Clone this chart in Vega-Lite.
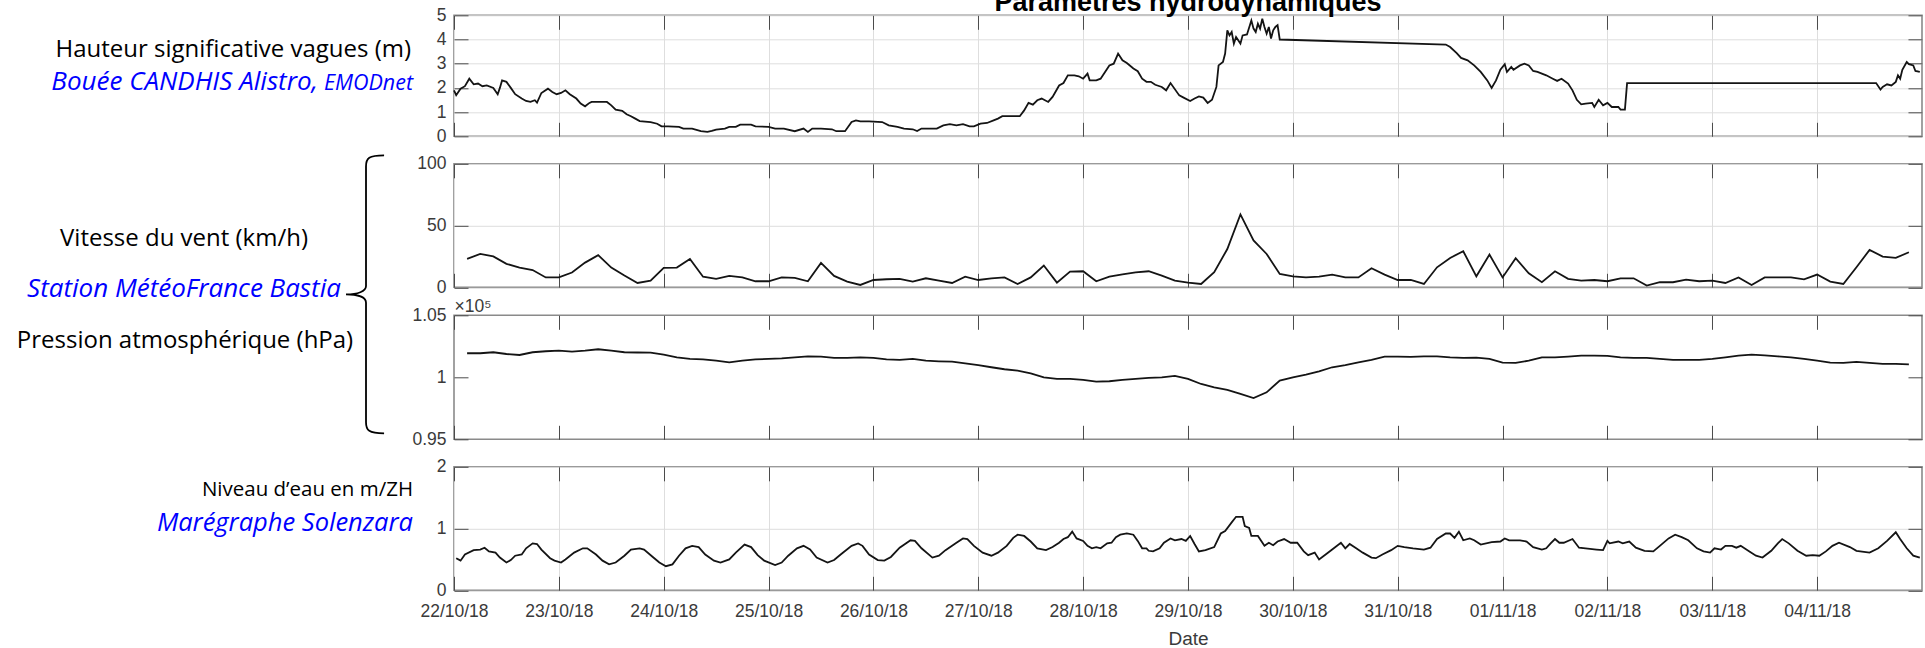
{
"$schema": "https://vega.github.io/schema/vega-lite/v6.json",
"background": "white",
"padding": {"left": 0, "top": -12.7, "right": 0, "bottom": 0},
"autosize": {"type": "pad"},
"config": {
  "view": {"stroke": "#8a8a8a", "strokeWidth": 1.6},
  "axis": {"domain": false, "labelFont": "Liberation Sans", "labelFontSize": 17.5, "labelColor": "#3a3a3a", "labelOverlap": false, "tickColor": "#4a4a4a", "tickSize": -14, "tickWidth": 1, "gridColor": "#dedede", "gridWidth": 1, "labelFlush": false, "titleFont": "Liberation Sans", "titleFontWeight": "normal", "titleColor": "#3a3a3a"},
  "axisLeft": {"labelPadding": 22},
  "axisBottom": {"labelPadding": 26},
  "line": {"color": "#141414", "strokeWidth": 1.8}
},
"datasets": {
"vagues": [
{"date":"2018-10-22T00:00Z","valeur":1.9},{"date":"2018-10-22T00:30Z","valeur":1.7},{"date":"2018-10-22T01:30Z","valeur":1.97},{"date":"2018-10-22T02:30Z","valeur":2.07},{"date":"2018-10-22T03:30Z","valeur":2.38},{"date":"2018-10-22T04:30Z","valeur":2.15},{"date":"2018-10-22T05:30Z","valeur":2.18},{"date":"2018-10-22T06:30Z","valeur":2.07},{"date":"2018-10-22T07:30Z","valeur":2.1},{"date":"2018-10-22T09:00Z","valeur":2.0},{"date":"2018-10-22T10:00Z","valeur":1.74},{"date":"2018-10-22T10:30Z","valeur":2.0},{"date":"2018-10-22T11:00Z","valeur":2.31},{"date":"2018-10-22T12:00Z","valeur":2.25},{"date":"2018-10-22T13:00Z","valeur":2.0},{"date":"2018-10-22T14:00Z","valeur":1.74},{"date":"2018-10-22T15:30Z","valeur":1.56},{"date":"2018-10-22T16:30Z","valeur":1.46},{"date":"2018-10-22T17:30Z","valeur":1.42},{"date":"2018-10-22T18:30Z","valeur":1.49},{"date":"2018-10-22T19:00Z","valeur":1.39},{"date":"2018-10-22T20:00Z","valeur":1.79},{"date":"2018-10-22T21:30Z","valeur":1.97},{"date":"2018-10-22T22:30Z","valeur":1.83},{"date":"2018-10-22T23:30Z","valeur":1.74},
{"date":"2018-10-23T00:30Z","valeur":1.79},{"date":"2018-10-23T01:30Z","valeur":1.9},{"date":"2018-10-23T02:30Z","valeur":1.74},{"date":"2018-10-23T04:00Z","valeur":1.56},{"date":"2018-10-23T05:00Z","valeur":1.35},{"date":"2018-10-23T06:00Z","valeur":1.24},{"date":"2018-10-23T07:00Z","valeur":1.38},{"date":"2018-10-23T07:30Z","valeur":1.42},{"date":"2018-10-23T09:30Z","valeur":1.42},{"date":"2018-10-23T11:00Z","valeur":1.42},{"date":"2018-10-23T12:00Z","valeur":1.28},{"date":"2018-10-23T13:00Z","valeur":1.10},{"date":"2018-10-23T14:30Z","valeur":1.05},{"date":"2018-10-23T15:30Z","valeur":0.91},{"date":"2018-10-23T16:30Z","valeur":0.83},{"date":"2018-10-23T17:30Z","valeur":0.73},{"date":"2018-10-23T18:30Z","valeur":0.63},{"date":"2018-10-23T21:00Z","valeur":0.59},{"date":"2018-10-23T22:30Z","valeur":0.52},{"date":"2018-10-23T23:30Z","valeur":0.41},
{"date":"2018-10-24T01:00Z","valeur":0.41},{"date":"2018-10-24T03:30Z","valeur":0.39},{"date":"2018-10-24T04:30Z","valeur":0.32},{"date":"2018-10-24T06:30Z","valeur":0.32},{"date":"2018-10-24T08:30Z","valeur":0.21},{"date":"2018-10-24T10:00Z","valeur":0.18},{"date":"2018-10-24T11:00Z","valeur":0.22},{"date":"2018-10-24T12:00Z","valeur":0.28},{"date":"2018-10-24T14:00Z","valeur":0.32},{"date":"2018-10-24T15:00Z","valeur":0.39},{"date":"2018-10-24T16:30Z","valeur":0.39},{"date":"2018-10-24T17:30Z","valeur":0.48},{"date":"2018-10-24T20:00Z","valeur":0.48},{"date":"2018-10-24T21:00Z","valeur":0.41},
{"date":"2018-10-25T00:00Z","valeur":0.39},{"date":"2018-10-25T01:30Z","valeur":0.32},{"date":"2018-10-25T03:30Z","valeur":0.32},{"date":"2018-10-25T06:00Z","valeur":0.21},{"date":"2018-10-25T08:00Z","valeur":0.32},{"date":"2018-10-25T09:00Z","valeur":0.18},{"date":"2018-10-25T10:00Z","valeur":0.32},{"date":"2018-10-25T12:00Z","valeur":0.32},{"date":"2018-10-25T14:30Z","valeur":0.29},{"date":"2018-10-25T15:30Z","valeur":0.21},{"date":"2018-10-25T17:30Z","valeur":0.21},{"date":"2018-10-25T19:00Z","valeur":0.59},{"date":"2018-10-25T20:00Z","valeur":0.66},{"date":"2018-10-25T21:00Z","valeur":0.62},{"date":"2018-10-25T23:00Z","valeur":0.62},
{"date":"2018-10-26T02:00Z","valeur":0.59},{"date":"2018-10-26T03:30Z","valeur":0.45},{"date":"2018-10-26T05:30Z","valeur":0.39},{"date":"2018-10-26T07:00Z","valeur":0.32},{"date":"2018-10-26T09:00Z","valeur":0.29},{"date":"2018-10-26T10:00Z","valeur":0.22},{"date":"2018-10-26T11:00Z","valeur":0.32},{"date":"2018-10-26T14:30Z","valeur":0.32},{"date":"2018-10-26T16:00Z","valeur":0.45},{"date":"2018-10-26T17:30Z","valeur":0.50},{"date":"2018-10-26T19:00Z","valeur":0.45},{"date":"2018-10-26T20:30Z","valeur":0.50},{"date":"2018-10-26T22:00Z","valeur":0.41},{"date":"2018-10-26T23:00Z","valeur":0.41},
{"date":"2018-10-27T00:30Z","valeur":0.52},{"date":"2018-10-27T02:00Z","valeur":0.55},{"date":"2018-10-27T03:30Z","valeur":0.66},{"date":"2018-10-27T04:30Z","valeur":0.73},{"date":"2018-10-27T05:30Z","valeur":0.83},{"date":"2018-10-27T09:30Z","valeur":0.83},{"date":"2018-10-27T10:30Z","valeur":1.07},{"date":"2018-10-27T11:30Z","valeur":1.38},{"date":"2018-10-27T12:30Z","valeur":1.31},{"date":"2018-10-27T13:30Z","valeur":1.49},{"date":"2018-10-27T14:30Z","valeur":1.56},{"date":"2018-10-27T16:00Z","valeur":1.42},{"date":"2018-10-27T17:00Z","valeur":1.63},{"date":"2018-10-27T18:30Z","valeur":2.1},{"date":"2018-10-27T19:30Z","valeur":2.2},{"date":"2018-10-27T20:30Z","valeur":2.52},{"date":"2018-10-27T22:00Z","valeur":2.52},{"date":"2018-10-27T23:00Z","valeur":2.48},
{"date":"2018-10-28T00:00Z","valeur":2.38},{"date":"2018-10-28T01:00Z","valeur":2.59},{"date":"2018-10-28T01:30Z","valeur":2.31},{"date":"2018-10-28T03:00Z","valeur":2.31},{"date":"2018-10-28T04:00Z","valeur":2.38},{"date":"2018-10-28T06:00Z","valeur":2.93},{"date":"2018-10-28T07:00Z","valeur":3.0},{"date":"2018-10-28T08:00Z","valeur":3.42},{"date":"2018-10-28T09:00Z","valeur":3.14},{"date":"2018-10-28T10:00Z","valeur":3.03},{"date":"2018-10-28T11:30Z","valeur":2.8},{"date":"2018-10-28T12:30Z","valeur":2.69},{"date":"2018-10-28T13:30Z","valeur":2.38},{"date":"2018-10-28T14:30Z","valeur":2.25},{"date":"2018-10-28T15:30Z","valeur":2.25},{"date":"2018-10-28T16:30Z","valeur":2.13},{"date":"2018-10-28T18:00Z","valeur":2.04},{"date":"2018-10-28T19:00Z","valeur":1.9},{"date":"2018-10-28T20:00Z","valeur":2.2},{"date":"2018-10-28T22:00Z","valeur":1.69},{"date":"2018-10-28T23:00Z","valeur":1.6},
{"date":"2018-10-29T00:30Z","valeur":1.46},{"date":"2018-10-29T01:30Z","valeur":1.56},{"date":"2018-10-29T02:30Z","valeur":1.65},{"date":"2018-10-29T03:30Z","valeur":1.6},{"date":"2018-10-29T04:30Z","valeur":1.38},{"date":"2018-10-29T05:30Z","valeur":1.51},{"date":"2018-10-29T06:30Z","valeur":2.04},{"date":"2018-10-29T07:00Z","valeur":2.93},{"date":"2018-10-29T08:00Z","valeur":3.07},{"date":"2018-10-29T08:30Z","valeur":3.42},{"date":"2018-10-29T09:00Z","valeur":4.38},{"date":"2018-10-29T09:30Z","valeur":4.17},{"date":"2018-10-29T10:00Z","valeur":4.31},{"date":"2018-10-29T10:30Z","valeur":3.83},{"date":"2018-10-29T11:00Z","valeur":4.1},{"date":"2018-10-29T12:00Z","valeur":3.83},{"date":"2018-10-29T12:30Z","valeur":4.17},{"date":"2018-10-29T13:30Z","valeur":4.21},{"date":"2018-10-29T14:30Z","valeur":4.79},{"date":"2018-10-29T15:00Z","valeur":4.45},{"date":"2018-10-29T15:30Z","valeur":4.31},{"date":"2018-10-29T16:00Z","valeur":4.65},{"date":"2018-10-29T16:30Z","valeur":4.45},{"date":"2018-10-29T17:00Z","valeur":4.86},{"date":"2018-10-29T17:30Z","valeur":4.52},{"date":"2018-10-29T18:00Z","valeur":4.24},{"date":"2018-10-29T18:30Z","valeur":4.52},{"date":"2018-10-29T19:00Z","valeur":4.04},{"date":"2018-10-29T19:30Z","valeur":4.38},{"date":"2018-10-29T20:00Z","valeur":4.52},{"date":"2018-10-29T20:30Z","valeur":4.59},{"date":"2018-10-29T21:00Z","valeur":4.0},
{"date":"2018-10-31T11:00Z","valeur":3.79},{"date":"2018-10-31T12:00Z","valeur":3.69},{"date":"2018-10-31T13:30Z","valeur":3.44},{"date":"2018-10-31T14:30Z","valeur":3.24},{"date":"2018-10-31T16:00Z","valeur":3.14},{"date":"2018-10-31T17:30Z","valeur":2.93},{"date":"2018-10-31T19:00Z","valeur":2.66},{"date":"2018-10-31T20:30Z","valeur":2.31},{"date":"2018-10-31T21:30Z","valeur":2.0},{"date":"2018-10-31T22:30Z","valeur":2.31},{"date":"2018-10-31T23:30Z","valeur":2.75},
{"date":"2018-11-01T00:30Z","valeur":2.98},{"date":"2018-11-01T01:00Z","valeur":2.66},{"date":"2018-11-01T02:00Z","valeur":2.87},{"date":"2018-11-01T02:30Z","valeur":2.75},{"date":"2018-11-01T04:00Z","valeur":2.93},{"date":"2018-11-01T05:00Z","valeur":3.0},{"date":"2018-11-01T06:00Z","valeur":2.93},{"date":"2018-11-01T07:00Z","valeur":2.7},{"date":"2018-11-01T08:00Z","valeur":2.66},{"date":"2018-11-01T10:00Z","valeur":2.52},{"date":"2018-11-01T11:30Z","valeur":2.38},{"date":"2018-11-01T12:30Z","valeur":2.29},{"date":"2018-11-01T13:30Z","valeur":2.38},{"date":"2018-11-01T15:00Z","valeur":2.18},{"date":"2018-11-01T16:00Z","valeur":1.9},{"date":"2018-11-01T17:00Z","valeur":1.51},{"date":"2018-11-01T18:00Z","valeur":1.32},{"date":"2018-11-01T19:00Z","valeur":1.35},{"date":"2018-11-01T20:30Z","valeur":1.38},{"date":"2018-11-01T21:00Z","valeur":1.21},{"date":"2018-11-01T22:00Z","valeur":1.51},{"date":"2018-11-01T23:00Z","valeur":1.28},
{"date":"2018-11-02T00:00Z","valeur":1.38},{"date":"2018-11-02T01:00Z","valeur":1.21},{"date":"2018-11-02T02:30Z","valeur":1.21},{"date":"2018-11-02T03:00Z","valeur":1.10},{"date":"2018-11-02T04:00Z","valeur":1.10},{"date":"2018-11-02T04:30Z","valeur":2.2},
{"date":"2018-11-04T13:30Z","valeur":2.2},{"date":"2018-11-04T14:30Z","valeur":1.93},{"date":"2018-11-04T15:00Z","valeur":2.04},{"date":"2018-11-04T16:00Z","valeur":2.15},{"date":"2018-11-04T17:00Z","valeur":2.1},{"date":"2018-11-04T18:00Z","valeur":2.25},{"date":"2018-11-04T18:30Z","valeur":2.52},{"date":"2018-11-04T19:00Z","valeur":2.38},{"date":"2018-11-04T19:30Z","valeur":2.75},{"date":"2018-11-04T20:30Z","valeur":3.07},{"date":"2018-11-04T21:00Z","valeur":2.98},{"date":"2018-11-04T22:00Z","valeur":2.93},{"date":"2018-11-04T22:30Z","valeur":2.7},{"date":"2018-11-04T23:30Z","valeur":2.66}
],
"vent": [
{"date":"2018-10-22T03:00Z","valeur":23},{"date":"2018-10-22T06:00Z","valeur":27},{"date":"2018-10-22T09:00Z","valeur":25},{"date":"2018-10-22T12:00Z","valeur":19},{"date":"2018-10-22T15:00Z","valeur":16},{"date":"2018-10-22T18:00Z","valeur":14},{"date":"2018-10-22T21:00Z","valeur":8},
{"date":"2018-10-23T00:00Z","valeur":8},{"date":"2018-10-23T03:00Z","valeur":12},{"date":"2018-10-23T06:00Z","valeur":20},{"date":"2018-10-23T09:00Z","valeur":26},{"date":"2018-10-23T12:00Z","valeur":16},{"date":"2018-10-23T15:00Z","valeur":9.5},{"date":"2018-10-23T18:00Z","valeur":3.5},{"date":"2018-10-23T21:00Z","valeur":5.4},
{"date":"2018-10-24T00:00Z","valeur":15.7},{"date":"2018-10-24T03:00Z","valeur":16},{"date":"2018-10-24T06:00Z","valeur":23},{"date":"2018-10-24T09:00Z","valeur":8.6},{"date":"2018-10-24T12:00Z","valeur":6.8},{"date":"2018-10-24T15:00Z","valeur":9.2},{"date":"2018-10-24T18:00Z","valeur":8},{"date":"2018-10-24T21:00Z","valeur":4.9},
{"date":"2018-10-25T00:00Z","valeur":4.9},{"date":"2018-10-25T03:00Z","valeur":8},{"date":"2018-10-25T06:00Z","valeur":7.6},{"date":"2018-10-25T09:00Z","valeur":4.9},{"date":"2018-10-25T12:00Z","valeur":19.7},{"date":"2018-10-25T15:00Z","valeur":9.2},{"date":"2018-10-25T18:00Z","valeur":4.6},{"date":"2018-10-25T21:00Z","valeur":1.9},
{"date":"2018-10-26T00:00Z","valeur":5.9},{"date":"2018-10-26T03:00Z","valeur":6.5},{"date":"2018-10-26T06:00Z","valeur":6.8},{"date":"2018-10-26T09:00Z","valeur":4.6},{"date":"2018-10-26T12:00Z","valeur":7.3},{"date":"2018-10-26T15:00Z","valeur":5.4},{"date":"2018-10-26T18:00Z","valeur":3.5},{"date":"2018-10-26T21:00Z","valeur":8.6},
{"date":"2018-10-27T00:00Z","valeur":5.9},{"date":"2018-10-27T03:00Z","valeur":7.3},{"date":"2018-10-27T06:00Z","valeur":8},{"date":"2018-10-27T09:00Z","valeur":2.7},{"date":"2018-10-27T12:00Z","valeur":8},{"date":"2018-10-27T15:00Z","valeur":17.6},{"date":"2018-10-27T18:00Z","valeur":3.8},{"date":"2018-10-27T21:00Z","valeur":12.7},
{"date":"2018-10-28T00:00Z","valeur":13},{"date":"2018-10-28T03:00Z","valeur":4.9},{"date":"2018-10-28T06:00Z","valeur":8.6},{"date":"2018-10-28T09:00Z","valeur":10.5},{"date":"2018-10-28T12:00Z","valeur":12},{"date":"2018-10-28T15:00Z","valeur":13},{"date":"2018-10-28T18:00Z","valeur":9.5},{"date":"2018-10-28T21:00Z","valeur":5.4},
{"date":"2018-10-29T00:00Z","valeur":3.8},{"date":"2018-10-29T03:00Z","valeur":2.7},{"date":"2018-10-29T06:00Z","valeur":12.2},{"date":"2018-10-29T09:00Z","valeur":31},{"date":"2018-10-29T12:00Z","valeur":59},{"date":"2018-10-29T15:00Z","valeur":38},{"date":"2018-10-29T18:00Z","valeur":27},{"date":"2018-10-29T21:00Z","valeur":10.8},
{"date":"2018-10-30T00:00Z","valeur":8.9},{"date":"2018-10-30T03:00Z","valeur":8},{"date":"2018-10-30T06:00Z","valeur":8.6},{"date":"2018-10-30T09:00Z","valeur":10.3},{"date":"2018-10-30T12:00Z","valeur":8},{"date":"2018-10-30T15:00Z","valeur":8},{"date":"2018-10-30T18:00Z","valeur":15.4},{"date":"2018-10-30T21:00Z","valeur":10.3},
{"date":"2018-10-31T00:00Z","valeur":5.9},{"date":"2018-10-31T03:00Z","valeur":5.9},{"date":"2018-10-31T06:00Z","valeur":2.7},{"date":"2018-10-31T09:00Z","valeur":16.2},{"date":"2018-10-31T12:00Z","valeur":23.8},{"date":"2018-10-31T15:00Z","valeur":29.2},{"date":"2018-10-31T18:00Z","valeur":8.9},{"date":"2018-10-31T21:00Z","valeur":26.5},
{"date":"2018-11-01T00:00Z","valeur":8},{"date":"2018-11-01T03:00Z","valeur":23.5},{"date":"2018-11-01T06:00Z","valeur":11.4},{"date":"2018-11-01T09:00Z","valeur":4.1},{"date":"2018-11-01T12:00Z","valeur":13},{"date":"2018-11-01T15:00Z","valeur":6.8},{"date":"2018-11-01T18:00Z","valeur":5.4},{"date":"2018-11-01T21:00Z","valeur":5.9},
{"date":"2018-11-02T00:00Z","valeur":4.9},{"date":"2018-11-02T03:00Z","valeur":7.3},{"date":"2018-11-02T06:00Z","valeur":7.3},{"date":"2018-11-02T09:00Z","valeur":1.4},{"date":"2018-11-02T12:00Z","valeur":4.1},{"date":"2018-11-02T15:00Z","valeur":4.1},{"date":"2018-11-02T18:00Z","valeur":6.2},{"date":"2018-11-02T21:00Z","valeur":4.9},
{"date":"2018-11-03T00:00Z","valeur":5.4},{"date":"2018-11-03T03:00Z","valeur":3.5},{"date":"2018-11-03T06:00Z","valeur":8},{"date":"2018-11-03T09:00Z","valeur":1.9},{"date":"2018-11-03T12:00Z","valeur":8},{"date":"2018-11-03T15:00Z","valeur":8},{"date":"2018-11-03T18:00Z","valeur":8},{"date":"2018-11-03T21:00Z","valeur":6.5},
{"date":"2018-11-04T00:00Z","valeur":10.3},{"date":"2018-11-04T03:00Z","valeur":4.6},{"date":"2018-11-04T06:00Z","valeur":2.7},{"date":"2018-11-04T09:00Z","valeur":16.2},{"date":"2018-11-04T12:00Z","valeur":30.3},{"date":"2018-11-04T15:00Z","valeur":24.9},{"date":"2018-11-04T18:00Z","valeur":23.8},{"date":"2018-11-04T21:00Z","valeur":28.4}
],
"pression": [
{"date":"2018-10-22T03:00Z","valeur":101940},{"date":"2018-10-22T06:00Z","valeur":101940},{"date":"2018-10-22T09:00Z","valeur":102020},{"date":"2018-10-22T12:00Z","valeur":101880},{"date":"2018-10-22T15:00Z","valeur":101800},{"date":"2018-10-22T18:00Z","valeur":102020},{"date":"2018-10-22T21:00Z","valeur":102100},
{"date":"2018-10-23T00:00Z","valeur":102150},{"date":"2018-10-23T03:00Z","valeur":102070},{"date":"2018-10-23T06:00Z","valeur":102150},{"date":"2018-10-23T09:00Z","valeur":102260},{"date":"2018-10-23T12:00Z","valeur":102150},{"date":"2018-10-23T15:00Z","valeur":102020},{"date":"2018-10-23T18:00Z","valeur":102000},{"date":"2018-10-23T21:00Z","valeur":101990},
{"date":"2018-10-24T00:00Z","valeur":101830},{"date":"2018-10-24T03:00Z","valeur":101610},{"date":"2018-10-24T06:00Z","valeur":101480},{"date":"2018-10-24T09:00Z","valeur":101450},{"date":"2018-10-24T12:00Z","valeur":101340},{"date":"2018-10-24T15:00Z","valeur":101210},{"date":"2018-10-24T18:00Z","valeur":101340},{"date":"2018-10-24T21:00Z","valeur":101450},
{"date":"2018-10-25T00:00Z","valeur":101480},{"date":"2018-10-25T03:00Z","valeur":101530},{"date":"2018-10-25T06:00Z","valeur":101610},{"date":"2018-10-25T09:00Z","valeur":101690},{"date":"2018-10-25T12:00Z","valeur":101670},{"date":"2018-10-25T15:00Z","valeur":101560},{"date":"2018-10-25T18:00Z","valeur":101560},{"date":"2018-10-25T21:00Z","valeur":101610},
{"date":"2018-10-26T00:00Z","valeur":101560},{"date":"2018-10-26T03:00Z","valeur":101450},{"date":"2018-10-26T06:00Z","valeur":101400},{"date":"2018-10-26T09:00Z","valeur":101480},{"date":"2018-10-26T12:00Z","valeur":101340},{"date":"2018-10-26T15:00Z","valeur":101290},{"date":"2018-10-26T18:00Z","valeur":101260},{"date":"2018-10-26T21:00Z","valeur":101130},
{"date":"2018-10-27T00:00Z","valeur":100990},{"date":"2018-10-27T03:00Z","valeur":100810},{"date":"2018-10-27T06:00Z","valeur":100650},{"date":"2018-10-27T09:00Z","valeur":100540},{"date":"2018-10-27T12:00Z","valeur":100320},{"date":"2018-10-27T15:00Z","valeur":100000},{"date":"2018-10-27T18:00Z","valeur":99870},{"date":"2018-10-27T21:00Z","valeur":99870},
{"date":"2018-10-28T00:00Z","valeur":99790},{"date":"2018-10-28T03:00Z","valeur":99650},{"date":"2018-10-28T06:00Z","valeur":99680},{"date":"2018-10-28T09:00Z","valeur":99790},{"date":"2018-10-28T12:00Z","valeur":99880},{"date":"2018-10-28T15:00Z","valeur":99950},{"date":"2018-10-28T18:00Z","valeur":100000},{"date":"2018-10-28T21:00Z","valeur":100110},
{"date":"2018-10-29T00:00Z","valeur":99870},{"date":"2018-10-29T03:00Z","valeur":99460},{"date":"2018-10-29T06:00Z","valeur":99190},{"date":"2018-10-29T09:00Z","valeur":98980},{"date":"2018-10-29T12:00Z","valeur":98660},{"date":"2018-10-29T15:00Z","valeur":98330},{"date":"2018-10-29T18:00Z","valeur":98790},{"date":"2018-10-29T21:00Z","valeur":99730},
{"date":"2018-10-30T00:00Z","valeur":100000},{"date":"2018-10-30T03:00Z","valeur":100220},{"date":"2018-10-30T06:00Z","valeur":100480},{"date":"2018-10-30T09:00Z","valeur":100810},{"date":"2018-10-30T12:00Z","valeur":100990},{"date":"2018-10-30T15:00Z","valeur":101210},{"date":"2018-10-30T18:00Z","valeur":101400},{"date":"2018-10-30T21:00Z","valeur":101670},
{"date":"2018-10-31T00:00Z","valeur":101670},{"date":"2018-10-31T03:00Z","valeur":101640},{"date":"2018-10-31T06:00Z","valeur":101690},{"date":"2018-10-31T09:00Z","valeur":101690},{"date":"2018-10-31T12:00Z","valeur":101610},{"date":"2018-10-31T15:00Z","valeur":101560},{"date":"2018-10-31T18:00Z","valeur":101590},{"date":"2018-10-31T21:00Z","valeur":101480},
{"date":"2018-11-01T00:00Z","valeur":101180},{"date":"2018-11-01T03:00Z","valeur":101160},{"date":"2018-11-01T06:00Z","valeur":101340},{"date":"2018-11-01T09:00Z","valeur":101610},{"date":"2018-11-01T12:00Z","valeur":101610},{"date":"2018-11-01T15:00Z","valeur":101670},{"date":"2018-11-01T18:00Z","valeur":101750},{"date":"2018-11-01T21:00Z","valeur":101750},
{"date":"2018-11-02T00:00Z","valeur":101720},{"date":"2018-11-02T03:00Z","valeur":101610},{"date":"2018-11-02T06:00Z","valeur":101560},{"date":"2018-11-02T09:00Z","valeur":101560},{"date":"2018-11-02T12:00Z","valeur":101480},{"date":"2018-11-02T15:00Z","valeur":101400},{"date":"2018-11-02T18:00Z","valeur":101400},{"date":"2018-11-02T21:00Z","valeur":101400},
{"date":"2018-11-03T00:00Z","valeur":101480},{"date":"2018-11-03T03:00Z","valeur":101610},{"date":"2018-11-03T06:00Z","valeur":101750},{"date":"2018-11-03T09:00Z","valeur":101830},{"date":"2018-11-03T12:00Z","valeur":101770},{"date":"2018-11-03T15:00Z","valeur":101690},{"date":"2018-11-03T18:00Z","valeur":101610},{"date":"2018-11-03T21:00Z","valeur":101480},
{"date":"2018-11-04T00:00Z","valeur":101340},{"date":"2018-11-04T03:00Z","valeur":101180},{"date":"2018-11-04T06:00Z","valeur":101160},{"date":"2018-11-04T09:00Z","valeur":101240},{"date":"2018-11-04T12:00Z","valeur":101160},{"date":"2018-11-04T15:00Z","valeur":101080},{"date":"2018-11-04T18:00Z","valeur":101080},{"date":"2018-11-04T21:00Z","valeur":101050}
],
"niveau": [
{"date":"2018-10-22T00:30Z","valeur":0.52},{"date":"2018-10-22T01:30Z","valeur":0.48},{"date":"2018-10-22T02:30Z","valeur":0.58},{"date":"2018-10-22T04:30Z","valeur":0.65},{"date":"2018-10-22T06:00Z","valeur":0.66},{"date":"2018-10-22T07:00Z","valeur":0.69},{"date":"2018-10-22T08:00Z","valeur":0.63},{"date":"2018-10-22T09:30Z","valeur":0.61},{"date":"2018-10-22T10:30Z","valeur":0.53},{"date":"2018-10-22T12:00Z","valeur":0.45},{"date":"2018-10-22T13:00Z","valeur":0.49},{"date":"2018-10-22T14:00Z","valeur":0.56},{"date":"2018-10-22T15:30Z","valeur":0.58},{"date":"2018-10-22T16:30Z","valeur":0.68},{"date":"2018-10-22T18:00Z","valeur":0.76},{"date":"2018-10-22T19:00Z","valeur":0.75},{"date":"2018-10-22T20:00Z","valeur":0.66},{"date":"2018-10-22T22:00Z","valeur":0.52},{"date":"2018-10-22T23:00Z","valeur":0.48},
{"date":"2018-10-23T00:30Z","valeur":0.45},{"date":"2018-10-23T01:30Z","valeur":0.50},{"date":"2018-10-23T03:30Z","valeur":0.61},{"date":"2018-10-23T05:30Z","valeur":0.68},{"date":"2018-10-23T06:30Z","valeur":0.68},{"date":"2018-10-23T08:30Z","valeur":0.58},{"date":"2018-10-23T10:00Z","valeur":0.48},{"date":"2018-10-23T11:30Z","valeur":0.42},{"date":"2018-10-23T13:00Z","valeur":0.45},{"date":"2018-10-23T15:00Z","valeur":0.56},{"date":"2018-10-23T16:30Z","valeur":0.66},{"date":"2018-10-23T18:30Z","valeur":0.68},{"date":"2018-10-23T19:30Z","valeur":0.66},{"date":"2018-10-23T21:30Z","valeur":0.54},{"date":"2018-10-23T23:00Z","valeur":0.45},
{"date":"2018-10-24T00:30Z","valeur":0.39},{"date":"2018-10-24T02:00Z","valeur":0.42},{"date":"2018-10-24T03:30Z","valeur":0.56},{"date":"2018-10-24T05:00Z","valeur":0.68},{"date":"2018-10-24T06:30Z","valeur":0.72},{"date":"2018-10-24T08:00Z","valeur":0.70},{"date":"2018-10-24T09:30Z","valeur":0.58},{"date":"2018-10-24T11:30Z","valeur":0.48},{"date":"2018-10-24T13:00Z","valeur":0.45},{"date":"2018-10-24T15:00Z","valeur":0.50},{"date":"2018-10-24T16:30Z","valeur":0.61},{"date":"2018-10-24T18:30Z","valeur":0.74},{"date":"2018-10-24T20:00Z","valeur":0.70},{"date":"2018-10-24T21:30Z","valeur":0.57},{"date":"2018-10-24T23:00Z","valeur":0.48},
{"date":"2018-10-25T01:30Z","valeur":0.41},{"date":"2018-10-25T03:00Z","valeur":0.45},{"date":"2018-10-25T04:30Z","valeur":0.56},{"date":"2018-10-25T06:30Z","valeur":0.68},{"date":"2018-10-25T08:00Z","valeur":0.72},{"date":"2018-10-25T09:30Z","valeur":0.66},{"date":"2018-10-25T11:00Z","valeur":0.53},{"date":"2018-10-25T13:30Z","valeur":0.45},{"date":"2018-10-25T15:00Z","valeur":0.49},{"date":"2018-10-25T16:30Z","valeur":0.58},{"date":"2018-10-25T19:00Z","valeur":0.72},{"date":"2018-10-25T20:30Z","valeur":0.76},{"date":"2018-10-25T21:30Z","valeur":0.72},{"date":"2018-10-25T23:00Z","valeur":0.58},
{"date":"2018-10-26T01:00Z","valeur":0.49},{"date":"2018-10-26T02:30Z","valeur":0.48},{"date":"2018-10-26T04:00Z","valeur":0.54},{"date":"2018-10-26T06:00Z","valeur":0.69},{"date":"2018-10-26T08:30Z","valeur":0.81},{"date":"2018-10-26T09:30Z","valeur":0.80},{"date":"2018-10-26T11:00Z","valeur":0.68},{"date":"2018-10-26T13:30Z","valeur":0.53},{"date":"2018-10-26T15:00Z","valeur":0.56},{"date":"2018-10-26T16:30Z","valeur":0.65},{"date":"2018-10-26T19:00Z","valeur":0.77},{"date":"2018-10-26T20:30Z","valeur":0.84},{"date":"2018-10-26T21:30Z","valeur":0.83},{"date":"2018-10-26T23:00Z","valeur":0.72},
{"date":"2018-10-27T01:00Z","valeur":0.61},{"date":"2018-10-27T03:00Z","valeur":0.56},{"date":"2018-10-27T04:30Z","valeur":0.61},{"date":"2018-10-27T06:30Z","valeur":0.72},{"date":"2018-10-27T08:00Z","valeur":0.85},{"date":"2018-10-27T09:00Z","valeur":0.90},{"date":"2018-10-27T10:30Z","valeur":0.88},{"date":"2018-10-27T12:00Z","valeur":0.79},{"date":"2018-10-27T13:30Z","valeur":0.68},{"date":"2018-10-27T15:30Z","valeur":0.65},{"date":"2018-10-27T17:00Z","valeur":0.70},{"date":"2018-10-27T18:30Z","valeur":0.77},{"date":"2018-10-27T19:30Z","valeur":0.83},{"date":"2018-10-27T20:30Z","valeur":0.86},{"date":"2018-10-27T21:30Z","valeur":0.95},{"date":"2018-10-27T22:30Z","valeur":0.84},
{"date":"2018-10-28T00:00Z","valeur":0.80},{"date":"2018-10-28T01:00Z","valeur":0.72},{"date":"2018-10-28T02:00Z","valeur":0.68},{"date":"2018-10-28T03:00Z","valeur":0.70},{"date":"2018-10-28T04:00Z","valeur":0.68},{"date":"2018-10-28T05:30Z","valeur":0.76},{"date":"2018-10-28T06:30Z","valeur":0.77},{"date":"2018-10-28T07:30Z","valeur":0.86},{"date":"2018-10-28T08:30Z","valeur":0.90},{"date":"2018-10-28T10:00Z","valeur":0.92},{"date":"2018-10-28T11:30Z","valeur":0.90},{"date":"2018-10-28T12:30Z","valeur":0.80},{"date":"2018-10-28T13:30Z","valeur":0.68},{"date":"2018-10-28T14:30Z","valeur":0.68},{"date":"2018-10-28T15:00Z","valeur":0.64},{"date":"2018-10-28T16:00Z","valeur":0.63},{"date":"2018-10-28T17:30Z","valeur":0.68},{"date":"2018-10-28T18:30Z","valeur":0.77},{"date":"2018-10-28T20:00Z","valeur":0.84},{"date":"2018-10-28T21:00Z","valeur":0.81},{"date":"2018-10-28T22:30Z","valeur":0.83},{"date":"2018-10-28T23:30Z","valeur":0.80},
{"date":"2018-10-29T00:30Z","valeur":0.88},{"date":"2018-10-29T01:30Z","valeur":0.75},{"date":"2018-10-29T02:30Z","valeur":0.63},{"date":"2018-10-29T04:00Z","valeur":0.65},{"date":"2018-10-29T06:00Z","valeur":0.70},{"date":"2018-10-29T07:30Z","valeur":0.92},{"date":"2018-10-29T08:30Z","valeur":0.96},{"date":"2018-10-29T10:00Z","valeur":1.10},{"date":"2018-10-29T11:00Z","valeur":1.19},{"date":"2018-10-29T12:30Z","valeur":1.19},{"date":"2018-10-29T13:00Z","valeur":1.04},{"date":"2018-10-29T14:00Z","valeur":1.01},{"date":"2018-10-29T14:30Z","valeur":0.88},{"date":"2018-10-29T16:00Z","valeur":0.88},{"date":"2018-10-29T17:30Z","valeur":0.72},{"date":"2018-10-29T18:30Z","valeur":0.77},{"date":"2018-10-29T19:30Z","valeur":0.73},{"date":"2018-10-29T20:30Z","valeur":0.79},{"date":"2018-10-29T22:00Z","valeur":0.83},{"date":"2018-10-29T23:30Z","valeur":0.77},
{"date":"2018-10-30T01:00Z","valeur":0.77},{"date":"2018-10-30T02:30Z","valeur":0.63},{"date":"2018-10-30T03:30Z","valeur":0.57},{"date":"2018-10-30T05:00Z","valeur":0.61},{"date":"2018-10-30T06:00Z","valeur":0.50},{"date":"2018-10-30T07:30Z","valeur":0.58},{"date":"2018-10-30T09:00Z","valeur":0.66},{"date":"2018-10-30T11:00Z","valeur":0.77},{"date":"2018-10-30T12:00Z","valeur":0.68},{"date":"2018-10-30T13:00Z","valeur":0.75},{"date":"2018-10-30T14:30Z","valeur":0.68},{"date":"2018-10-30T16:00Z","valeur":0.61},{"date":"2018-10-30T18:00Z","valeur":0.53},{"date":"2018-10-30T19:00Z","valeur":0.52},{"date":"2018-10-30T20:30Z","valeur":0.58},{"date":"2018-10-30T22:30Z","valeur":0.65},
{"date":"2018-10-31T00:00Z","valeur":0.72},{"date":"2018-10-31T01:30Z","valeur":0.70},{"date":"2018-10-31T03:30Z","valeur":0.68},{"date":"2018-10-31T06:00Z","valeur":0.66},{"date":"2018-10-31T07:30Z","valeur":0.69},{"date":"2018-10-31T09:00Z","valeur":0.83},{"date":"2018-10-31T11:00Z","valeur":0.92},{"date":"2018-10-31T12:00Z","valeur":0.92},{"date":"2018-10-31T13:00Z","valeur":0.85},{"date":"2018-10-31T14:00Z","valeur":0.95},{"date":"2018-10-31T15:00Z","valeur":0.81},{"date":"2018-10-31T16:30Z","valeur":0.84},{"date":"2018-10-31T17:30Z","valeur":0.81},{"date":"2018-10-31T19:00Z","valeur":0.74},{"date":"2018-10-31T21:30Z","valeur":0.78},{"date":"2018-10-31T23:30Z","valeur":0.79},
{"date":"2018-11-01T00:30Z","valeur":0.84},{"date":"2018-11-01T01:30Z","valeur":0.81},{"date":"2018-11-01T04:00Z","valeur":0.81},{"date":"2018-11-01T05:30Z","valeur":0.79},{"date":"2018-11-01T07:00Z","valeur":0.70},{"date":"2018-11-01T09:00Z","valeur":0.66},{"date":"2018-11-01T10:00Z","valeur":0.68},{"date":"2018-11-01T11:00Z","valeur":0.76},{"date":"2018-11-01T12:00Z","valeur":0.83},{"date":"2018-11-01T13:00Z","valeur":0.77},{"date":"2018-11-01T14:00Z","valeur":0.77},{"date":"2018-11-01T16:00Z","valeur":0.83},{"date":"2018-11-01T17:30Z","valeur":0.69},{"date":"2018-11-01T19:00Z","valeur":0.68},{"date":"2018-11-01T21:30Z","valeur":0.66},{"date":"2018-11-01T23:00Z","valeur":0.65},
{"date":"2018-11-02T00:00Z","valeur":0.80},{"date":"2018-11-02T00:30Z","valeur":0.76},{"date":"2018-11-02T02:30Z","valeur":0.79},{"date":"2018-11-02T03:30Z","valeur":0.76},{"date":"2018-11-02T05:00Z","valeur":0.79},{"date":"2018-11-02T06:30Z","valeur":0.69},{"date":"2018-11-02T08:30Z","valeur":0.64},{"date":"2018-11-02T10:30Z","valeur":0.63},{"date":"2018-11-02T12:00Z","valeur":0.72},{"date":"2018-11-02T14:00Z","valeur":0.84},{"date":"2018-11-02T15:30Z","valeur":0.90},{"date":"2018-11-02T17:00Z","valeur":0.86},{"date":"2018-11-02T18:30Z","valeur":0.81},{"date":"2018-11-02T20:30Z","valeur":0.68},{"date":"2018-11-02T22:00Z","valeur":0.63},{"date":"2018-11-02T23:30Z","valeur":0.61},
{"date":"2018-11-03T00:30Z","valeur":0.68},{"date":"2018-11-03T02:00Z","valeur":0.66},{"date":"2018-11-03T03:00Z","valeur":0.72},{"date":"2018-11-03T04:30Z","valeur":0.72},{"date":"2018-11-03T05:30Z","valeur":0.69},{"date":"2018-11-03T06:30Z","valeur":0.72},{"date":"2018-11-03T08:30Z","valeur":0.63},{"date":"2018-11-03T10:00Z","valeur":0.56},{"date":"2018-11-03T11:30Z","valeur":0.53},{"date":"2018-11-03T13:30Z","valeur":0.64},{"date":"2018-11-03T15:00Z","valeur":0.76},{"date":"2018-11-03T16:00Z","valeur":0.83},{"date":"2018-11-03T17:30Z","valeur":0.76},{"date":"2018-11-03T19:30Z","valeur":0.64},{"date":"2018-11-03T21:30Z","valeur":0.56},{"date":"2018-11-03T23:00Z","valeur":0.57},
{"date":"2018-11-04T00:30Z","valeur":0.56},{"date":"2018-11-04T02:00Z","valeur":0.63},{"date":"2018-11-04T03:30Z","valeur":0.72},{"date":"2018-11-04T05:00Z","valeur":0.77},{"date":"2018-11-04T07:30Z","valeur":0.70},{"date":"2018-11-04T09:00Z","valeur":0.64},{"date":"2018-11-04T12:00Z","valeur":0.61},{"date":"2018-11-04T14:00Z","valeur":0.68},{"date":"2018-11-04T16:00Z","valeur":0.80},{"date":"2018-11-04T18:00Z","valeur":0.94},{"date":"2018-11-04T19:00Z","valeur":0.83},{"date":"2018-11-04T20:30Z","valeur":0.68},{"date":"2018-11-04T22:00Z","valeur":0.56},{"date":"2018-11-04T23:30Z","valeur":0.53}
]
},
"spacing": 0,
"bounds": "flush",
"hconcat": [
{
  "width": 454, "height": 574.5,
  "view": {"stroke": null},
  "data": {"values": [{}]},
  "layer": [
    {"mark": {"type": "text", "text": "Hauteur significative vagues (m)", "font": "Open Sans", "fontSize": 24, "align": "right", "baseline": "alphabetic", "color": "#000000"},
     "encoding": {"x": {"datum": 411, "type": "quantitative", "scale": {"domain": [0, 454], "nice": false, "zero": false}, "axis": null}, "y": {"datum": 41.5, "type": "quantitative", "scale": {"domain": [0, 574.5], "reverse": true, "nice": false, "zero": false}, "axis": null}}},
    {"mark": {"type": "text", "text": "Bouée CANDHIS Alistro,", "font": "Open Sans", "fontStyle": "italic", "fontSize": 26, "align": "right", "baseline": "alphabetic", "color": "#0000ff"},
     "encoding": {"x": {"datum": 318, "type": "quantitative"}, "y": {"datum": 74.3, "type": "quantitative"}}},
    {"mark": {"type": "text", "text": "EMODnet", "font": "Open Sans", "fontStyle": "italic", "fontSize": 21.5, "align": "right", "baseline": "alphabetic", "color": "#0000ff"},
     "encoding": {"x": {"datum": 413, "type": "quantitative"}, "y": {"datum": 74.3, "type": "quantitative"}}},
    {"mark": {"type": "text", "text": "Vitesse du vent (km/h)", "font": "Open Sans", "fontSize": 24, "align": "center", "baseline": "alphabetic", "color": "#000000"},
     "encoding": {"x": {"datum": 184, "type": "quantitative"}, "y": {"datum": 231, "type": "quantitative"}}},
    {"mark": {"type": "text", "text": "Station MétéoFrance Bastia", "font": "Open Sans", "fontStyle": "italic", "fontSize": 26, "align": "center", "baseline": "alphabetic", "color": "#0000ff"},
     "encoding": {"x": {"datum": 184, "type": "quantitative"}, "y": {"datum": 281.7, "type": "quantitative"}}},
    {"mark": {"type": "text", "text": "Pression atmosphérique (hPa)", "font": "Open Sans", "fontSize": 24, "align": "center", "baseline": "alphabetic", "color": "#000000"},
     "encoding": {"x": {"datum": 185, "type": "quantitative"}, "y": {"datum": 332.3, "type": "quantitative"}}},
    {"mark": {"type": "text", "text": "Niveau d’eau en m/ZH", "font": "Open Sans", "fontSize": 20.5, "align": "right", "baseline": "alphabetic", "color": "#000000"},
     "encoding": {"x": {"datum": 413, "type": "quantitative"}, "y": {"datum": 481, "type": "quantitative"}}},
    {"mark": {"type": "text", "text": "Marégraphe Solenzara", "font": "Open Sans", "fontStyle": "italic", "fontSize": 25.5, "align": "right", "baseline": "alphabetic", "color": "#0000ff"},
     "encoding": {"x": {"datum": 413, "type": "quantitative"}, "y": {"datum": 515.7, "type": "quantitative"}}},
    {"mark": {"type": "point", "shape": "M 0.13 -1 C 0.02 -1 0 -0.98 0 -0.92 L 0 -0.06 C 0 -0.02 -0.06 0 -0.144 0 C -0.06 0 0 0.02 0 0.06 L 0 0.92 C 0 0.98 0.02 1 0.13 1", "size": 77284, "filled": false, "stroke": "#000000", "strokeWidth": 1.8, "opacity": 1},
     "encoding": {"x": {"datum": 366, "type": "quantitative"}, "y": {"datum": 279, "type": "quantitative"}}}
  ]
},
{
  "spacing": 27.5,
  "bounds": "flush",
  "vconcat": [
  {
    "width": 1468, "height": 121,
    "title": {"text": "Paramètres hydrodynamiques", "font": "Liberation Sans", "fontSize": 27, "fontWeight": "bold", "color": "#000000", "anchor": "middle", "frame": "group", "offset": -31.3, "baseline": "alphabetic"},
    "data": {"name": "vagues"},
    "layer": [
      {"mark": {"type": "line"},
       "encoding": {
         "x": {"field": "date", "type": "temporal", "scale": {"type": "utc", "nice": false, "domain": [{"year": 2018, "month": 10, "date": 22, "utc": true}, {"year": 2018, "month": 11, "date": 5, "utc": true}]},
               "axis": {"orient": "bottom", "labels": false, "grid": true, "title": null, "values": [{"year":2018,"month":10,"date":22,"utc":true},{"year":2018,"month":10,"date":23,"utc":true},{"year":2018,"month":10,"date":24,"utc":true},{"year":2018,"month":10,"date":25,"utc":true},{"year":2018,"month":10,"date":26,"utc":true},{"year":2018,"month":10,"date":27,"utc":true},{"year":2018,"month":10,"date":28,"utc":true},{"year":2018,"month":10,"date":29,"utc":true},{"year":2018,"month":10,"date":30,"utc":true},{"year":2018,"month":10,"date":31,"utc":true},{"year":2018,"month":11,"date":1,"utc":true},{"year":2018,"month":11,"date":2,"utc":true},{"year":2018,"month":11,"date":3,"utc":true},{"year":2018,"month":11,"date":4,"utc":true}]}},
         "y": {"field": "valeur", "type": "quantitative", "scale": {"domain": [0, 5], "nice": false, "zero": false}, "axis": {"orient": "left", "values": [0, 1, 2, 3, 4, 5], "format": "d", "grid": true, "title": null}}
       }},
      {"mark": {"type": "line", "opacity": 0},
       "encoding": {
         "x": {"field": "date", "type": "temporal", "axis": {"orient": "top", "labels": false, "grid": false, "title": null, "values": [{"year":2018,"month":10,"date":22,"utc":true},{"year":2018,"month":10,"date":23,"utc":true},{"year":2018,"month":10,"date":24,"utc":true},{"year":2018,"month":10,"date":25,"utc":true},{"year":2018,"month":10,"date":26,"utc":true},{"year":2018,"month":10,"date":27,"utc":true},{"year":2018,"month":10,"date":28,"utc":true},{"year":2018,"month":10,"date":29,"utc":true},{"year":2018,"month":10,"date":30,"utc":true},{"year":2018,"month":10,"date":31,"utc":true},{"year":2018,"month":11,"date":1,"utc":true},{"year":2018,"month":11,"date":2,"utc":true},{"year":2018,"month":11,"date":3,"utc":true},{"year":2018,"month":11,"date":4,"utc":true}]}},
         "y": {"field": "valeur", "type": "quantitative", "axis": {"orient": "right", "values": [0, 1, 2, 3, 4, 5], "labels": false, "grid": false, "title": null}}
       }}
    ],
    "resolve": {"axis": {"x": "independent", "y": "independent"}}
  },
  {
    "width": 1468, "height": 123.5,
    "data": {"name": "vent"},
    "layer": [
      {"mark": {"type": "line"},
       "encoding": {
         "x": {"field": "date", "type": "temporal", "scale": {"type": "utc", "nice": false, "domain": [{"year": 2018, "month": 10, "date": 22, "utc": true}, {"year": 2018, "month": 11, "date": 5, "utc": true}]},
               "axis": {"orient": "bottom", "labels": false, "grid": true, "title": null, "values": [{"year":2018,"month":10,"date":22,"utc":true},{"year":2018,"month":10,"date":23,"utc":true},{"year":2018,"month":10,"date":24,"utc":true},{"year":2018,"month":10,"date":25,"utc":true},{"year":2018,"month":10,"date":26,"utc":true},{"year":2018,"month":10,"date":27,"utc":true},{"year":2018,"month":10,"date":28,"utc":true},{"year":2018,"month":10,"date":29,"utc":true},{"year":2018,"month":10,"date":30,"utc":true},{"year":2018,"month":10,"date":31,"utc":true},{"year":2018,"month":11,"date":1,"utc":true},{"year":2018,"month":11,"date":2,"utc":true},{"year":2018,"month":11,"date":3,"utc":true},{"year":2018,"month":11,"date":4,"utc":true}]}},
         "y": {"field": "valeur", "type": "quantitative", "scale": {"domain": [0, 100], "nice": false, "zero": false}, "axis": {"orient": "left", "values": [0, 50, 100], "format": "d", "grid": true, "title": null}}
       }},
      {"mark": {"type": "line", "opacity": 0},
       "encoding": {
         "x": {"field": "date", "type": "temporal", "axis": {"orient": "top", "labels": false, "grid": false, "title": null, "values": [{"year":2018,"month":10,"date":22,"utc":true},{"year":2018,"month":10,"date":23,"utc":true},{"year":2018,"month":10,"date":24,"utc":true},{"year":2018,"month":10,"date":25,"utc":true},{"year":2018,"month":10,"date":26,"utc":true},{"year":2018,"month":10,"date":27,"utc":true},{"year":2018,"month":10,"date":28,"utc":true},{"year":2018,"month":10,"date":29,"utc":true},{"year":2018,"month":10,"date":30,"utc":true},{"year":2018,"month":10,"date":31,"utc":true},{"year":2018,"month":11,"date":1,"utc":true},{"year":2018,"month":11,"date":2,"utc":true},{"year":2018,"month":11,"date":3,"utc":true},{"year":2018,"month":11,"date":4,"utc":true}]}},
         "y": {"field": "valeur", "type": "quantitative", "axis": {"orient": "right", "values": [0, 50, 100], "labels": false, "grid": false, "title": null}}
       }}
    ],
    "resolve": {"axis": {"x": "independent", "y": "independent"}}
  },
  {
    "width": 1468, "height": 124,
    "data": {"name": "pression"},
    "layer": [
      {"mark": {"type": "line"},
       "encoding": {
         "x": {"field": "date", "type": "temporal", "scale": {"type": "utc", "nice": false, "domain": [{"year": 2018, "month": 10, "date": 22, "utc": true}, {"year": 2018, "month": 11, "date": 5, "utc": true}]},
               "axis": {"orient": "bottom", "labels": false, "grid": false, "title": null, "values": [{"year":2018,"month":10,"date":22,"utc":true},{"year":2018,"month":10,"date":23,"utc":true},{"year":2018,"month":10,"date":24,"utc":true},{"year":2018,"month":10,"date":25,"utc":true},{"year":2018,"month":10,"date":26,"utc":true},{"year":2018,"month":10,"date":27,"utc":true},{"year":2018,"month":10,"date":28,"utc":true},{"year":2018,"month":10,"date":29,"utc":true},{"year":2018,"month":10,"date":30,"utc":true},{"year":2018,"month":10,"date":31,"utc":true},{"year":2018,"month":11,"date":1,"utc":true},{"year":2018,"month":11,"date":2,"utc":true},{"year":2018,"month":11,"date":3,"utc":true},{"year":2018,"month":11,"date":4,"utc":true}]}},
         "y": {"field": "valeur", "type": "quantitative", "scale": {"domain": [95000, 105000], "nice": false, "zero": false},
               "axis": {"orient": "left", "values": [95000, 100000, 105000], "grid": false, "labelExpr": "datum.value === 100000 ? '1' : format(datum.value / 100000, '.2f')", "title": "×10⁵", "titleAngle": 0, "titleAlign": "left", "titleBaseline": "alphabetic", "titleX": 0, "titleY": -3.5, "titleFontSize": 17.5}}
       }},
      {"mark": {"type": "line", "opacity": 0},
       "encoding": {
         "x": {"field": "date", "type": "temporal", "axis": {"orient": "top", "labels": false, "grid": false, "title": null, "values": [{"year":2018,"month":10,"date":22,"utc":true},{"year":2018,"month":10,"date":23,"utc":true},{"year":2018,"month":10,"date":24,"utc":true},{"year":2018,"month":10,"date":25,"utc":true},{"year":2018,"month":10,"date":26,"utc":true},{"year":2018,"month":10,"date":27,"utc":true},{"year":2018,"month":10,"date":28,"utc":true},{"year":2018,"month":10,"date":29,"utc":true},{"year":2018,"month":10,"date":30,"utc":true},{"year":2018,"month":10,"date":31,"utc":true},{"year":2018,"month":11,"date":1,"utc":true},{"year":2018,"month":11,"date":2,"utc":true},{"year":2018,"month":11,"date":3,"utc":true},{"year":2018,"month":11,"date":4,"utc":true}]}},
         "y": {"field": "valeur", "type": "quantitative", "axis": {"orient": "right", "values": [95000, 100000, 105000], "labels": false, "grid": false, "title": null}}
       }}
    ],
    "resolve": {"axis": {"x": "independent", "y": "independent"}}
  },
  {
    "width": 1468, "height": 123.5,
    "data": {"name": "niveau"},
    "layer": [
      {"mark": {"type": "line"},
       "encoding": {
         "x": {"field": "date", "type": "temporal", "scale": {"type": "utc", "nice": false, "domain": [{"year": 2018, "month": 10, "date": 22, "utc": true}, {"year": 2018, "month": 11, "date": 5, "utc": true}]},
               "axis": {"orient": "bottom", "labels": true, "format": "%d/%m/%y", "grid": true, "title": "Date", "titleFontSize": 19, "titleY": 48, "titleBaseline": "middle", "values": [{"year":2018,"month":10,"date":22,"utc":true},{"year":2018,"month":10,"date":23,"utc":true},{"year":2018,"month":10,"date":24,"utc":true},{"year":2018,"month":10,"date":25,"utc":true},{"year":2018,"month":10,"date":26,"utc":true},{"year":2018,"month":10,"date":27,"utc":true},{"year":2018,"month":10,"date":28,"utc":true},{"year":2018,"month":10,"date":29,"utc":true},{"year":2018,"month":10,"date":30,"utc":true},{"year":2018,"month":10,"date":31,"utc":true},{"year":2018,"month":11,"date":1,"utc":true},{"year":2018,"month":11,"date":2,"utc":true},{"year":2018,"month":11,"date":3,"utc":true},{"year":2018,"month":11,"date":4,"utc":true}]}},
         "y": {"field": "valeur", "type": "quantitative", "scale": {"domain": [0, 2], "nice": false, "zero": false}, "axis": {"orient": "left", "values": [0, 1, 2], "labelExpr": "datum.value === 0 ? '0' : datum.value === 1 ? '1' : '2'", "grid": true, "title": null}}
       }},
      {"mark": {"type": "line", "opacity": 0},
       "encoding": {
         "x": {"field": "date", "type": "temporal", "axis": {"orient": "top", "labels": false, "grid": false, "title": null, "values": [{"year":2018,"month":10,"date":22,"utc":true},{"year":2018,"month":10,"date":23,"utc":true},{"year":2018,"month":10,"date":24,"utc":true},{"year":2018,"month":10,"date":25,"utc":true},{"year":2018,"month":10,"date":26,"utc":true},{"year":2018,"month":10,"date":27,"utc":true},{"year":2018,"month":10,"date":28,"utc":true},{"year":2018,"month":10,"date":29,"utc":true},{"year":2018,"month":10,"date":30,"utc":true},{"year":2018,"month":10,"date":31,"utc":true},{"year":2018,"month":11,"date":1,"utc":true},{"year":2018,"month":11,"date":2,"utc":true},{"year":2018,"month":11,"date":3,"utc":true},{"year":2018,"month":11,"date":4,"utc":true}]}},
         "y": {"field": "valeur", "type": "quantitative", "axis": {"orient": "right", "values": [0, 1, 2], "labels": false, "grid": false, "title": null}}
       }}
    ],
    "resolve": {"axis": {"x": "independent", "y": "independent"}}
  }
  ]
}
]
}
